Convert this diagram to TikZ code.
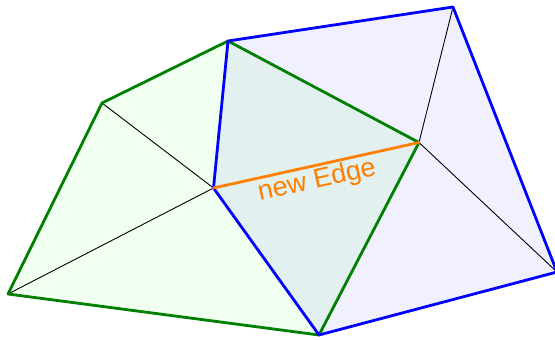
\documentclass[tikz,border=0pt]{standalone}
\usepackage{fontspec}
\setmainfont{Liberation Sans}
\definecolor{gline}{RGB}{0,128,0}
\definecolor{bline}{RGB}{0,0,255}
\definecolor{oline}{RGB}{255,128,0}
\definecolor{gfill}{RGB}{240,255,240}
\definecolor{bfill}{RGB}{240,240,255}
\definecolor{mfill}{RGB}{226,240,240}
\begin{document}
\begin{tikzpicture}[x=1pt,y=-1pt,
  thin edge/.style={black,line width=0.9pt},
  green edge/.style={gline,line width=2.8pt,line join=round,line cap=round},
  blue edge/.style={bline,line width=2.8pt,line join=round,line cap=round},
  new edge/.style={oline,line width=2.8pt,line cap=round}]
\useasboundingbox (0,0) rectangle (555,340);
\coordinate (A) at (8,294);
\coordinate (B) at (102,103);
\coordinate (C) at (228,41);
\coordinate (D) at (453,7);
\coordinate (E) at (419,142.5);
\coordinate (F) at (213.5,188);
\coordinate (G) at (319,335);
\coordinate (H) at (557,272);
% fills
\fill[gfill] (A) -- (B) -- (C) -- (E) -- (G) -- cycle;
\fill[bfill] (C) -- (D) -- (H) -- (G) -- (F) -- cycle;
\fill[mfill] (C) -- (E) -- (G) -- (F) -- cycle;
% thin inner edges
\draw[thin edge] (B) -- (F);
\draw[thin edge] (A) -- (F);
\draw[thin edge] (D) -- (E);
\draw[thin edge] (E) -- (H);
% outlines
\draw[green edge] (A) -- (B) -- (C) -- (E) -- (G) -- cycle;
\draw[blue edge] (C) -- (D) -- (H) -- (G) -- (F) -- cycle;
\draw[new edge] (F) -- (E);
\node[text=oline,font=\fontsize{27}{32}\selectfont,rotate=12.5,inner sep=0pt] (lbl) at (317,181) {new Edge};
\end{tikzpicture}
\end{document}
